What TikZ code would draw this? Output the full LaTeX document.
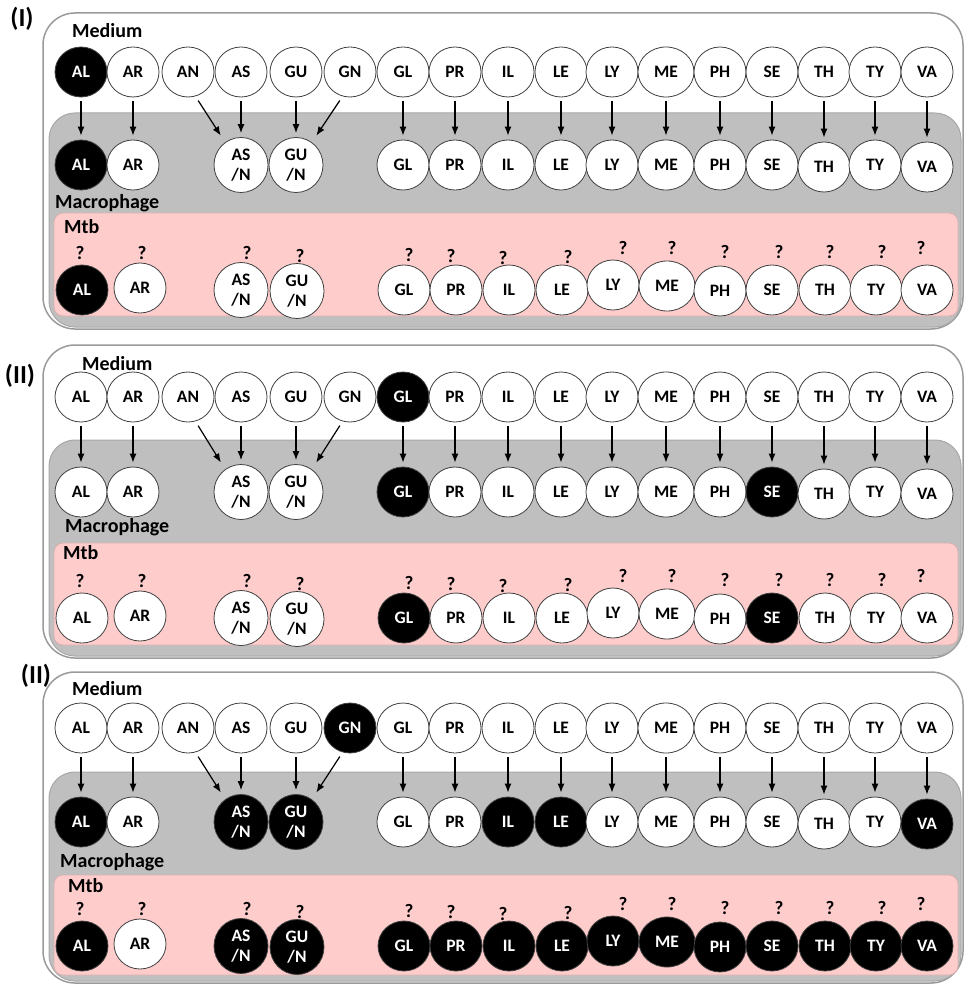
\documentclass[tikz,border=0pt]{standalone}
\usepackage{fontspec}
\setmainfont{Carlito}
\usetikzlibrary{shapes.geometric,arrows.meta,calc}
\definecolor{macgray}{HTML}{BFBFBF}
\definecolor{macline}{HTML}{A8A8A8}
\definecolor{mtbpink}{HTML}{FFCCCC}
\definecolor{pinkline}{HTML}{D8B0B0}
\definecolor{boxline}{HTML}{9A9A9A}
\definecolor{cellline}{HTML}{404040}
\begin{document}
\begin{tikzpicture}[x=1pt,y=-1pt,
  cell/.style={ellipse, draw=cellline, line width=0.8pt, fill=white, text=black,
    minimum width=52pt, minimum height=50pt, inner sep=0pt,
    font=\fontsize{17.5}{17.5}\selectfont\bfseries},
  two/.style={minimum width=54pt, minimum height=55pt, align=center,
    font=\fontsize{17.5}{20}\selectfont\bfseries},
  wME/.style={minimum width=56pt},
  blk/.style={fill=black, text=white},
  qm/.style={font=\fontsize{19}{19}\selectfont\bfseries, inner sep=0pt},
  arr/.style={-{Latex[length=9pt,width=7pt]}, line width=1.2pt, shorten <=4pt, shorten >=4pt},
  darr/.style={-{Latex[length=9pt,width=7pt]}, line width=1.2pt, shorten <=5pt, shorten >=8pt},
  outerbox/.style={draw=boxline, line width=1.5pt, fill=white, rounded corners=32pt},
  graybox/.style={draw=macline, line width=1pt, fill=macgray, rounded corners=26pt},
  pinkbox/.style={draw=pinkline, line width=0.8pt, fill=mtbpink, rounded corners=9pt},
  lbl/.style={font=\fontsize{20}{20}\selectfont\bfseries, anchor=west, inner sep=0pt},
  plabel/.style={font=\fontsize{26}{26}\selectfont\bfseries, inner sep=0pt},
  b1tAL/.style={blk}, b1mAL/.style={blk}, b1bAL/.style={blk},
  b2tGL/.style={blk}, b2mGL/.style={blk}, b2mSE/.style={blk}, b2bGL/.style={blk}, b2bSE/.style={blk},
  b3tGN/.style={blk}, b3mAL/.style={blk}, b3mASN/.style={blk}, b3mGUN/.style={blk},
  b3mIL/.style={blk}, b3mLE/.style={blk}, b3mVA/.style={blk},
  b3bAL/.style={blk}, b3bASN/.style={blk}, b3bGUN/.style={blk}, b3bGL/.style={blk},
  b3bPR/.style={blk}, b3bIL/.style={blk}, b3bLE/.style={blk}, b3bLY/.style={blk},
  b3bME/.style={blk}, b3bPH/.style={blk}, b3bSE/.style={blk}, b3bTH/.style={blk},
  b3bTY/.style={blk}, b3bVA/.style={blk},
]
\useasboundingbox (0,0) rectangle (964,984);

\foreach \p/\ot/\ob/\gt/\gb/\pt/\pb/\ty/\my/\by in
  {1/13/329/113/327/213/316/72/165/290,
   2/345/658/440/656/543/645/397/492/618,
   3/672/983/772/981/875/975/728/822/946} {
  \draw[outerbox] (43,\ot) rectangle (963,\ob);
  \draw[graybox] (49,\gt) rectangle (961,\gb);
  \draw[pinkbox] (54,\pt) rectangle (958,\pb);
  % medium row
  \foreach \n/\x in {AL/81,AR/133,AN/188,AS/241,GU/296,GN/350,GL/403,PR/455,IL/508,
                     LE/561,LY/612,ME/666,PH/720,SE/772,TH/824,TY/875,VA/927}
    \node[cell, w\n/.try, b\p t\n/.try] (p\p t\n) at (\x,\ty) {\n};
  % macrophage row
  \foreach \n/\x/\d in {AL/81/0,AR/133/0,GL/403/0,PR/455/0,IL/508/0,LE/561/0,LY/612/0,
                        ME/666/0,PH/720/0,SE/772/0,TH/824/2,TY/875/0,VA/927/2}
    \node[cell, w\n/.try, b\p m\n/.try] (p\p m\n) at (\x,\my+\d) {\n};
  \node[cell, two, b\p mASN/.try] (p\p mASN) at (241,\my) {AS\\/N};
  \node[cell, two, b\p mGUN/.try] (p\p mGUN) at (296,\my) {GU\\/N};
  % Mtb row
  \foreach \n/\x/\d in {AL/82/0,AR/140/-2,GL/404/0,PR/456/0,IL/509/0,LE/562/0,LY/613/-5,
                        ME/667/-4,PH/720/1,SE/772/0,TH/825/0,TY/876/0,VA/927/0}
    \node[cell, w\n/.try, b\p b\n/.try] (p\p b\n) at (\x,\by+\d) {\n};
  \node[cell, two, b\p bASN/.try] (p\p bASN) at (241,\by) {AS\\/N};
  \node[cell, two, b\p bGUN/.try] (p\p bGUN) at (297,\by+1) {GU\\/N};
  % question marks
  \foreach \n/\x/\d in {AL/80/-37,AR/142/-37,ASN/247/-37,GUN/300/-34,GL/409/-35,PR/451/-34,
                        IL/503/-32,LE/568/-33,LY/623/-42,ME/672/-42,PH/725/-38,SE/779/-38,
                        TH/830/-38,TY/882/-38,VA/921/-42}
    \node[qm] (p\p q\n) at (\x,\by+\d) {?};
  % arrows
  \foreach \a/\b in {AL/AL,AR/AR,AS/ASN,GU/GUN,GL/GL,PR/PR,IL/IL,LE/LE,LY/LY,
                     ME/ME,PH/PH,SE/SE,TH/TH,TY/TY,VA/VA}
    \draw[arr] (p\p t\a) -- (p\p m\b);
  \draw[darr] (p\p tAN.-73) -- (p\p mASN.125);
  \draw[darr] (p\p tGN.-107) -- (p\p mGUN.55);
}

% panel labels
\node[plabel] (lab1) at (22,19) {(I)};
\node[lbl] (med1) at (72,31) {Medium};
\node[lbl] (mac1) at (55,203) {Macrophage};
\node[lbl] (mtb1) at (64,227) {Mtb};

\node[plabel] (lab2) at (20,376) {(II)};
\node[lbl] (med2) at (82,364) {Medium};
\node[lbl] (mac2) at (65,527) {Macrophage};
\node[lbl] (mtb2) at (63,553) {Mtb};

\node[plabel] (lab3) at (36,676) {(II)};
\node[lbl] (med3) at (72,689) {Medium};
\node[lbl] (mac3) at (60,862) {Macrophage};
\node[lbl] (mtb3) at (68,886) {Mtb};
\end{tikzpicture}
\end{document}
